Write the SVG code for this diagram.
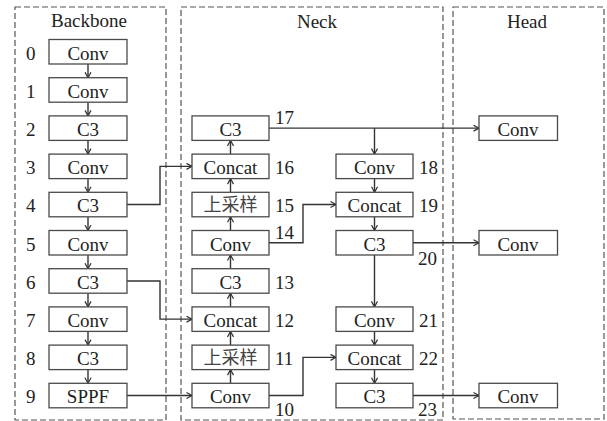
<svg xmlns="http://www.w3.org/2000/svg" width="607" height="421" viewBox="0 0 607 421">
<style>
.frame{fill:none;stroke:#555;stroke-width:1.2;stroke-dasharray:6,3}
.box{fill:#fff;stroke:#4a4a4a;stroke-width:1.3}
.t{font-size:19px;fill:#222;text-anchor:middle}
.n{font-size:19px;fill:#222}
.cn{font-size:18px;fill:#444;text-anchor:middle}
.c{fill:none;stroke:#333;stroke-width:1.4;marker-end:url(#ah)}
</style>
<defs>
<marker id="ah" markerUnits="userSpaceOnUse" markerWidth="8" markerHeight="8" refX="6" refY="3.5" orient="auto">
<path d="M0.5,0.5 L6,3.5 L0.5,6.5" fill="none" stroke="#333" stroke-width="1.2"/>
</marker>
</defs>
<rect width="607" height="421" fill="#fff"/>
<g font-family="Liberation Serif, DejaVu Serif, serif">
<g id="frames">
<rect class="frame" x="15" y="7" width="151" height="413"/>
<rect class="frame" x="181" y="7" width="262" height="413"/>
<rect class="frame" x="453" y="7" width="151" height="412"/>
<text class="t" x="89" y="27">Backbone</text>
<text class="t" x="317" y="28">Neck</text>
<text class="t" x="527" y="28">Head</text>
</g>
<g id="connectors">
<line class="c" x1="88" y1="64" x2="88" y2="77.7"/>
<line class="c" x1="88" y1="102.2" x2="88" y2="115.9"/>
<line class="c" x1="88" y1="140.4" x2="88" y2="154.1"/>
<line class="c" x1="88" y1="178.6" x2="88" y2="192.3"/>
<line class="c" x1="88" y1="216.8" x2="88" y2="230.5"/>
<line class="c" x1="88" y1="255" x2="88" y2="268.7"/>
<line class="c" x1="88" y1="293.2" x2="88" y2="306.9"/>
<line class="c" x1="88" y1="331.4" x2="88" y2="345.1"/>
<line class="c" x1="88" y1="369.6" x2="88" y2="383.3"/>
<polyline class="c" points="127,204.55 160,204.55 160,166.35 192,166.35"/>
<polyline class="c" points="127,280.95 160,280.95 160,319.15 192,319.15"/>
<line class="c" x1="127" y1="395.55" x2="192" y2="395.55"/>
<line class="c" x1="230.5" y1="383.3" x2="230.5" y2="369.6"/>
<line class="c" x1="230.5" y1="345.1" x2="230.5" y2="331.4"/>
<line class="c" x1="230.5" y1="306.9" x2="230.5" y2="293.2"/>
<line class="c" x1="230.5" y1="268.7" x2="230.5" y2="255"/>
<line class="c" x1="230.5" y1="230.5" x2="230.5" y2="216.8"/>
<line class="c" x1="230.5" y1="192.3" x2="230.5" y2="178.6"/>
<line class="c" x1="230.5" y1="154.1" x2="230.5" y2="140.4"/>
<polyline class="c" points="269,395.55 303,395.55 303,357.35 336,357.35"/>
<polyline class="c" points="269,242.75 303,242.75 303,204.55 336,204.55"/>
<line class="c" x1="269" y1="128.15" x2="479" y2="128.15"/>
<line class="c" x1="374.5" y1="128.15" x2="374.5" y2="154.1"/>
<line class="c" x1="374.5" y1="178.6" x2="374.5" y2="192.3"/>
<line class="c" x1="374.5" y1="216.8" x2="374.5" y2="230.5"/>
<line class="c" x1="413" y1="242.75" x2="479" y2="242.75"/>
<line class="c" x1="374.5" y1="255" x2="374.5" y2="306.9"/>
<line class="c" x1="374.5" y1="331.4" x2="374.5" y2="345.1"/>
<line class="c" x1="374.5" y1="369.6" x2="374.5" y2="383.3"/>
<line class="c" x1="413" y1="395.55" x2="479" y2="395.55"/>
</g>
<g id="b0"><rect class="box" x="49" y="39.5" width="78" height="24.5"/><text class="t" x="88" y="59.5">Conv</text><text class="n" x="26" y="59.5">0</text></g>
<g id="b1"><rect class="box" x="49" y="77.7" width="78" height="24.5"/><text class="t" x="88" y="97.7">Conv</text><text class="n" x="26" y="97.7">1</text></g>
<g id="b2"><rect class="box" x="49" y="115.9" width="78" height="24.5"/><text class="t" x="88" y="135.9">C3</text><text class="n" x="26" y="135.9">2</text></g>
<g id="b3"><rect class="box" x="49" y="154.1" width="78" height="24.5"/><text class="t" x="88" y="174.1">Conv</text><text class="n" x="26" y="174.1">3</text></g>
<g id="b4"><rect class="box" x="49" y="192.3" width="78" height="24.5"/><text class="t" x="88" y="212.3">C3</text><text class="n" x="26" y="212.3">4</text></g>
<g id="b5"><rect class="box" x="49" y="230.5" width="78" height="24.5"/><text class="t" x="88" y="250.5">Conv</text><text class="n" x="26" y="250.5">5</text></g>
<g id="b6"><rect class="box" x="49" y="268.7" width="78" height="24.5"/><text class="t" x="88" y="288.7">C3</text><text class="n" x="26" y="288.7">6</text></g>
<g id="b7"><rect class="box" x="49" y="306.9" width="78" height="24.5"/><text class="t" x="88" y="326.9">Conv</text><text class="n" x="26" y="326.9">7</text></g>
<g id="b8"><rect class="box" x="49" y="345.1" width="78" height="24.5"/><text class="t" x="88" y="365.1">C3</text><text class="n" x="26" y="365.1">8</text></g>
<g id="b9"><rect class="box" x="49" y="383.3" width="78" height="24.5"/><text class="t" x="88" y="403.3">SPPF</text><text class="n" x="26" y="403.3">9</text></g>
<g id="n10"><rect class="box" x="192" y="383.3" width="77" height="24.5"/><text class="t" x="230.5" y="403.3">Conv</text><text class="n" x="275" y="416">10</text></g>
<g id="n11"><rect class="box" x="192" y="345.1" width="77" height="24.5"/><text class="cn" x="230.5" y="364" font-family="Noto Sans CJK SC, sans-serif">上采样</text><text class="n" x="275" y="365.1">11</text></g>
<g id="n12"><rect class="box" x="192" y="306.9" width="77" height="24.5"/><text class="t" x="230.5" y="326.9">Concat</text><text class="n" x="275" y="326.9">12</text></g>
<g id="n13"><rect class="box" x="192" y="268.7" width="77" height="24.5"/><text class="t" x="230.5" y="288.7">C3</text><text class="n" x="275" y="288.7">13</text></g>
<g id="n14"><rect class="box" x="192" y="230.5" width="77" height="24.5"/><text class="t" x="230.5" y="250.5">Conv</text><text class="n" x="275" y="238.5">14</text></g>
<g id="n15"><rect class="box" x="192" y="192.3" width="77" height="24.5"/><text class="cn" x="230.5" y="211.2" font-family="Noto Sans CJK SC, sans-serif">上采样</text><text class="n" x="275" y="212.3">15</text></g>
<g id="n16"><rect class="box" x="192" y="154.1" width="77" height="24.5"/><text class="t" x="230.5" y="174.1">Concat</text><text class="n" x="275" y="174.1">16</text></g>
<g id="n17"><rect class="box" x="192" y="115.9" width="77" height="24.5"/><text class="t" x="230.5" y="135.9">C3</text><text class="n" x="275" y="123.5">17</text></g>
<g id="n18"><rect class="box" x="336" y="154.1" width="77" height="24.5"/><text class="t" x="374.5" y="174.1">Conv</text><text class="n" x="419" y="174.1">18</text></g>
<g id="n19"><rect class="box" x="336" y="192.3" width="77" height="24.5"/><text class="t" x="374.5" y="212.3">Concat</text><text class="n" x="419" y="212.3">19</text></g>
<g id="n20"><rect class="box" x="336" y="230.5" width="77" height="24.5"/><text class="t" x="374.5" y="250.5">C3</text><text class="n" x="418" y="265">20</text></g>
<g id="n21"><rect class="box" x="336" y="306.9" width="77" height="24.5"/><text class="t" x="374.5" y="326.9">Conv</text><text class="n" x="419" y="326.9">21</text></g>
<g id="n22"><rect class="box" x="336" y="345.1" width="77" height="24.5"/><text class="t" x="374.5" y="365.1">Concat</text><text class="n" x="419" y="365.1">22</text></g>
<g id="n23"><rect class="box" x="336" y="383.3" width="77" height="24.5"/><text class="t" x="374.5" y="403.3">C3</text><text class="n" x="418" y="416">23</text></g>
<g id="h1"><rect class="box" x="479" y="115.9" width="78.5" height="24.5"/><text class="t" x="518" y="135.9">Conv</text></g>
<g id="h2"><rect class="box" x="479" y="230.5" width="78.5" height="24.5"/><text class="t" x="518" y="250.5">Conv</text></g>
<g id="h3"><rect class="box" x="479" y="383.3" width="78.5" height="24.5"/><text class="t" x="518" y="403.3">Conv</text></g>
</g>
</svg>
